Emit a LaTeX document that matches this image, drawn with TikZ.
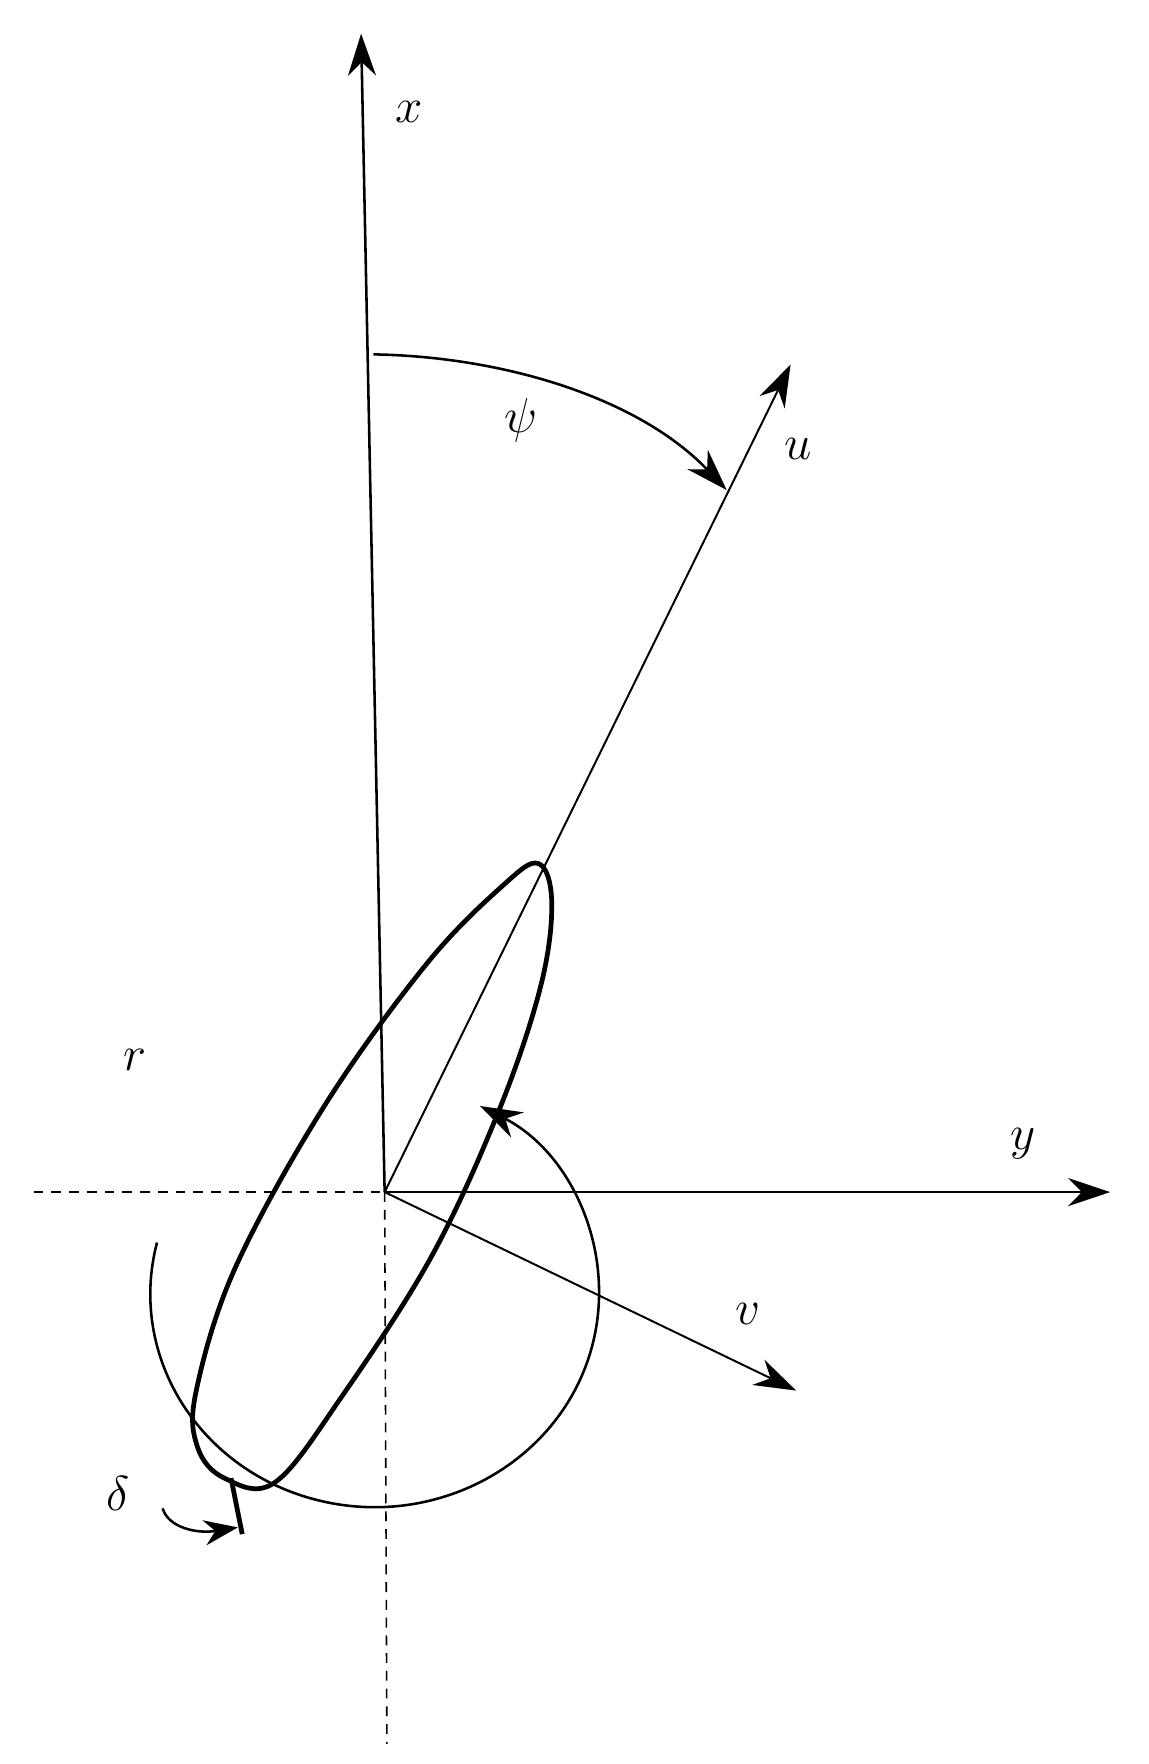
\documentclass[tikz,border=0pt]{standalone}
\usetikzlibrary{arrows.meta}
\begin{document}
\begin{tikzpicture}[x=0.02cm,y=-0.02cm,
  ax/.style={line width=1.3pt,-{Stealth[length=0.75cm,width=0.5cm]}},
  thin ax/.style={line width=1pt,-{Stealth[length=0.75cm,width=0.5cm]}},
  dsh/.style={line width=0.8pt,dash pattern=on 5pt off 4pt},
  lab/.style={font=\fontsize{40}{48}\selectfont\itshape}]
\useasboundingbox (0,0) rectangle (1024,1573);
\fill[white] (0,0) rectangle (1024,1573);
\coordinate (O) at (343,1063);
\coordinate (X) at (322,30);
\coordinate (Y) at (990,1063);
\coordinate (U) at (705,325);
\coordinate (V) at (710,1240);
\coordinate (L) at (30,1063);
\coordinate (B) at (345,1555);
\draw[dsh] (L) -- (O);
\draw[dsh] (O) -- (B);
\draw[ax] (O) -- (X);
\draw[ax] (O) -- (Y);
\draw[thin ax] (O) -- (U);
\draw[thin ax] (O) -- (V);
\node[lab] (xl) at (365,100) {$x$};
\node[lab] (yl) at (912,1020) {$y$};
\node[lab] (ul) at (712,400) {$u$};
\node[lab] (vl) at (667,1172) {$v$};
\node[lab] (psil) at (465,375) {$\psi$};
\node[lab] (rl) at (120,945) {$r$};
\node[lab] (dl) at (105,1332) {$\delta$};
\coordinate (P1) at (333,316);
\coordinate (P2) at (648,437);
\draw[ax] (P1) .. controls (450,318) and (570,355) .. (P2);
\draw[ax] (140,1108) arc[start angle=194,end angle=-62,x radius=200,y radius=190];
\draw[line width=2.4pt] plot[smooth cycle,tension=0.6] coordinates {
 (480,770) (492,805) (482,880) (445,990) (385,1120) (305,1245) (245,1322)
 (200,1318) (176,1290) (175,1240) (210,1130) (290,985) (380,860) (448,790)};
\coordinate (T1) at (206,1318);
\coordinate (T2) at (216,1368);
\draw[line width=2.4pt] (T1) -- (T2);
\draw[line width=1.3pt,-{Stealth[length=0.6cm,width=0.45cm]}] (145,1345) .. controls (150,1362) and (175,1368) .. (212,1362);
\end{tikzpicture}
\end{document}
